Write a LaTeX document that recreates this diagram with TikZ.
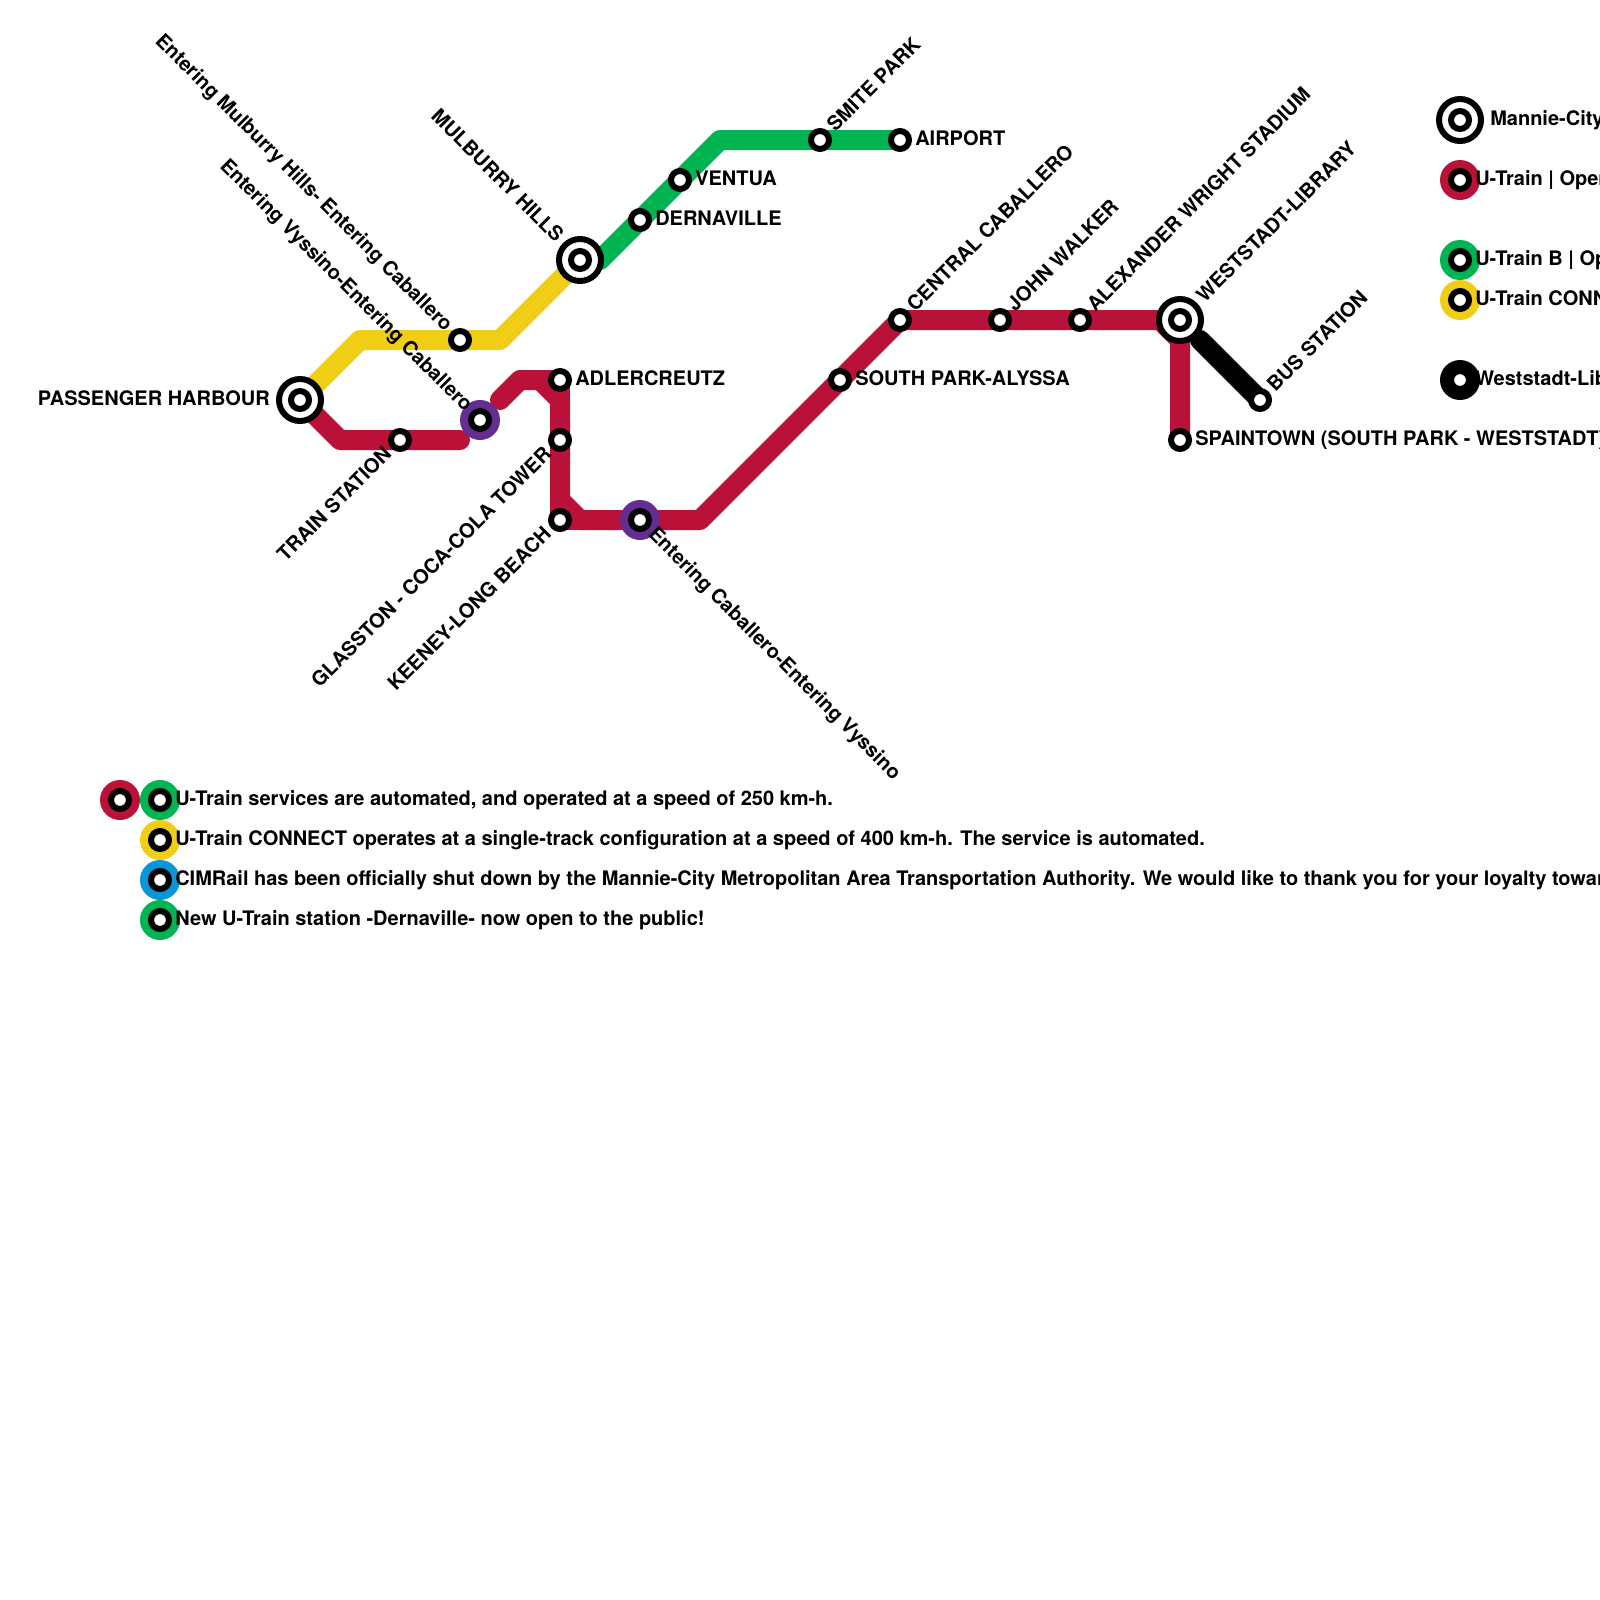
\documentclass[tikz,border=0pt]{standalone}
\usepackage{fontspec}
\setmainfont{TeX Gyre Heros}
\usetikzlibrary{backgrounds}
\definecolor{utrain}{HTML}{B91137}
\definecolor{utrainb}{HTML}{00B451}
\definecolor{connect}{HTML}{F0CE15}
\definecolor{cimrail}{HTML}{0896D7}
\definecolor{transfer}{HTML}{662D91}

\begin{document}
\begin{tikzpicture}[
    x=1cm, y=-1cm,
    stn/.style={draw=black, fill=white, circle, line width=0.15cm, inner sep=0pt, minimum size=0.45cm},
    hub/.style={draw=black, fill=white, circle, line width=0.15cm, inner sep=0pt, minimum size=1.05cm},
    halo/.style={circle, inner sep=0pt, minimum size=1cm},
    rail/.style={line width=0.5cm, line cap=round, line join=round},
    lbl/.style={font=\fontsize{14.22pt}{17pt}\bfseries, inner sep=0pt},
    lble/.style={lbl, anchor=base west, xshift=0.375cm, yshift=-0.14cm},
    lblw/.style={lbl, anchor=base east, xshift=-0.75cm, yshift=-0.14cm},
    lblne/.style={lbl, rotate=45, anchor=base west, xshift=0.4cm, yshift=-0.14cm},
    lblsw/.style={lbl, rotate=45, anchor=base east, xshift=-0.4cm, yshift=-0.14cm},
    lblnw/.style={lbl, rotate=-45, anchor=base east, xshift=-0.4cm, yshift=-0.14cm},
    lblse/.style={lbl, rotate=-45, anchor=base west, xshift=0.4cm, yshift=-0.14cm}
]
\useasboundingbox (0,0) rectangle (40,40);

% hubs and stations
\node[hub] (harbour) at (7.5,10) {};
\node[stn] (harbourin) at (harbour) {};
\node[hub] (hills) at (14.5,6.5) {};
\node[stn] (hillsin) at (hills) {};
\node[hub] (library) at (29.5,8) {};
\node[stn] (libraryin) at (library) {};
\node[stn] (trainst) at (10,11) {};
\node[stn] (mulburry) at (11.5,8.5) {};
\node[halo, fill=transfer] (vyssino) at (12,10.5) {};
\node[stn] (vyssinoin) at (vyssino) {};
\node[stn] (adler) at (14,9.5) {};
\node[stn] (glasston) at (14,11) {};
\node[stn] (keeney) at (14,13) {};
\node[halo, fill=transfer] (caballero) at (16,13) {};
\node[stn] (caballeroin) at (caballero) {};
\node[stn] (southpark) at (21,9.5) {};
\node[stn] (central) at (22.5,8) {};
\node[stn] (walker) at (25,8) {};
\node[stn] (stadium) at (27,8) {};
\node[stn] (spaintown) at (29.5,11) {};
\node[stn] (bus) at (31.5,10) {};
\node[stn] (dernaville) at (16,5.5) {};
\node[stn] (ventua) at (17,4.5) {};
\node[stn] (smite) at (20.5,3.5) {};
\node[stn] (airport) at (22.5,3.5) {};

% bends
\coordinate (y1) at (9,8.5);
\coordinate (y2) at (12.5,8.5);
\coordinate (g0) at (15,6.5);
\coordinate (g1) at (18,3.5);
\coordinate (r1) at (8.5,11);
\coordinate (r2) at (11.5,11);
\coordinate (r3) at (12.5,10);
\coordinate (r4) at (13,9.5);
\coordinate (r5) at (13.5,9.5);
\coordinate (r6) at (14,10);
\coordinate (r7) at (14,12.5);
\coordinate (r8) at (14.5,13);
\coordinate (r9) at (17.5,13);
\coordinate (r10) at (29,8);
\coordinate (r11) at (29.5,8.5);
\coordinate (k0) at (30,8.5);

% lines
\begin{scope}[on background layer]
\draw[rail, connect] (harbour.center) -- (y1) -- (y2) -- (hills.center);
\draw[rail, utrainb] (g0) -- (g1) -- (airport.center);
\draw[rail, utrain] (harbour.center) -- (r1) -- (r2);
\draw[rail, utrain] (r3) -- (r4) -- (r5) -- (r6) -- (r7) -- (r8) -- (r9) -- (central.center) -- (r10) -- (r11) -- (spaintown.center);
\draw[rail, utrain] (r5) -- (adler.center) -- (r6);
\draw[rail, utrain] (r7) -- (keeney.center) -- (r8);
\draw[rail, black] (k0) -- (bus.center);
\end{scope}

% station names
\node[lblw] (harbourlbl) at (harbour) {PASSENGER HARBOUR};
\node[lblsw] (trainstlbl) at (trainst) {TRAIN STATION};
\node[lblnw] (mulburrylbl) at (mulburry) {Entering Mulburry Hills- Entering Caballero};
\node[lblnw] (vyssinolbl) at (vyssino) {Entering Vyssino-Entering Caballero};
\node[lblnw, xshift=-0.33cm] (hillslbl) at (hills) {MULBURRY HILLS};
\node[lble] (adlerlbl) at (adler) {ADLERCREUTZ};
\node[lblsw] (glasstonlbl) at (glasston) {GLASSTON - COCA-COLA TOWER};
\node[lblsw] (keeneylbl) at (keeney) {KEENEY-LONG BEACH};
\node[lblse] (caballerolbl) at (caballero) {Entering Caballero-Entering Vyssino};
\node[lble] (southparklbl) at (southpark) {SOUTH PARK-ALYSSA};
\node[lblne] (centrallbl) at (central) {CENTRAL CABALLERO};
\node[lblne] (walkerlbl) at (walker) {JOHN WALKER};
\node[lblne] (stadiumlbl) at (stadium) {ALEXANDER WRIGHT STADIUM};
\node[lblne, xshift=0.33cm] (librarylbl) at (library) {WESTSTADT-LIBRARY};
\node[lblne] (buslbl) at (bus) {BUS STATION};
\node[lble] (spaintownlbl) at (spaintown) {SPAINTOWN (SOUTH PARK - WESTSTADT)};
\node[lble] (dernavillelbl) at (dernaville) {DERNAVILLE};
\node[lble] (ventualbl) at (ventua) {VENTUA};
\node[lblne] (smitelbl) at (smite) {SMITE PARK};
\node[lble] (airportlbl) at (airport) {AIRPORT};

% key at the right
\node[hub] (keyhub) at (36.5,3) {};
\node[stn] (keyhubin) at (keyhub) {};
\node[halo, fill=utrain] (keyred) at (36.5,4.5) {};
\node[stn] (keyredin) at (keyred) {};
\node[halo, fill=utrainb] (keygreen) at (36.5,6.5) {};
\node[stn] (keygreenin) at (keygreen) {};
\node[halo, fill=connect] (keyyellow) at (36.5,7.5) {};
\node[stn] (keyyellowin) at (keyyellow) {};
\node[halo, fill=black] (keyblack) at (36.5,9.5) {};
\node[stn] (keyblackin) at (keyblack) {};
\node[lble, xshift=0.375cm] (keyhublbl) at (keyhub) {Mannie-City};
\node[lble] (keyredlbl) at (keyred) {U-Train | Oper};
\node[lble] (keygreenlbl) at (keygreen) {U-Train B | Op};
\node[lble] (keyyellowlbl) at (keyyellow) {U-Train CONN};
\node[lble] (keyblacklbl) at (keyblack) {Weststadt-Lib};

% notices
\node[halo, fill=utrain] (notered) at (3,20) {};
\node[stn] (noteredin) at (notered) {};
\node[halo, fill=utrainb] (noteone) at (4,20) {};
\node[stn] (noteonein) at (noteone) {};
\node[halo, fill=connect] (notetwo) at (4,21) {};
\node[stn] (notetwoin) at (notetwo) {};
\node[halo, fill=cimrail] (notethree) at (4,22) {};
\node[stn] (notethreein) at (notethree) {};
\node[halo, fill=utrainb] (notefour) at (4,23) {};
\node[stn] (notefourin) at (notefour) {};
\node[lble] (noteonelbl) at (noteone) {U-Train services are automated, and operated at a speed of 250 km-h.};
\node[lble] (notetwolbl) at (notetwo) {U-Train CONNECT operates at a single-track configuration at a speed of 400 km-h. The service is automated.};
\node[lble] (notethreelbl) at (notethree) {CIMRail has been officially shut down by the Mannie-City Metropolitan Area Transportation Authority. We would like to thank you for your loyalty towar};
\node[lble] (notefourlbl) at (notefour) {New U-Train station -Dernaville- now open to the public!};
\end{tikzpicture}
\end{document}
